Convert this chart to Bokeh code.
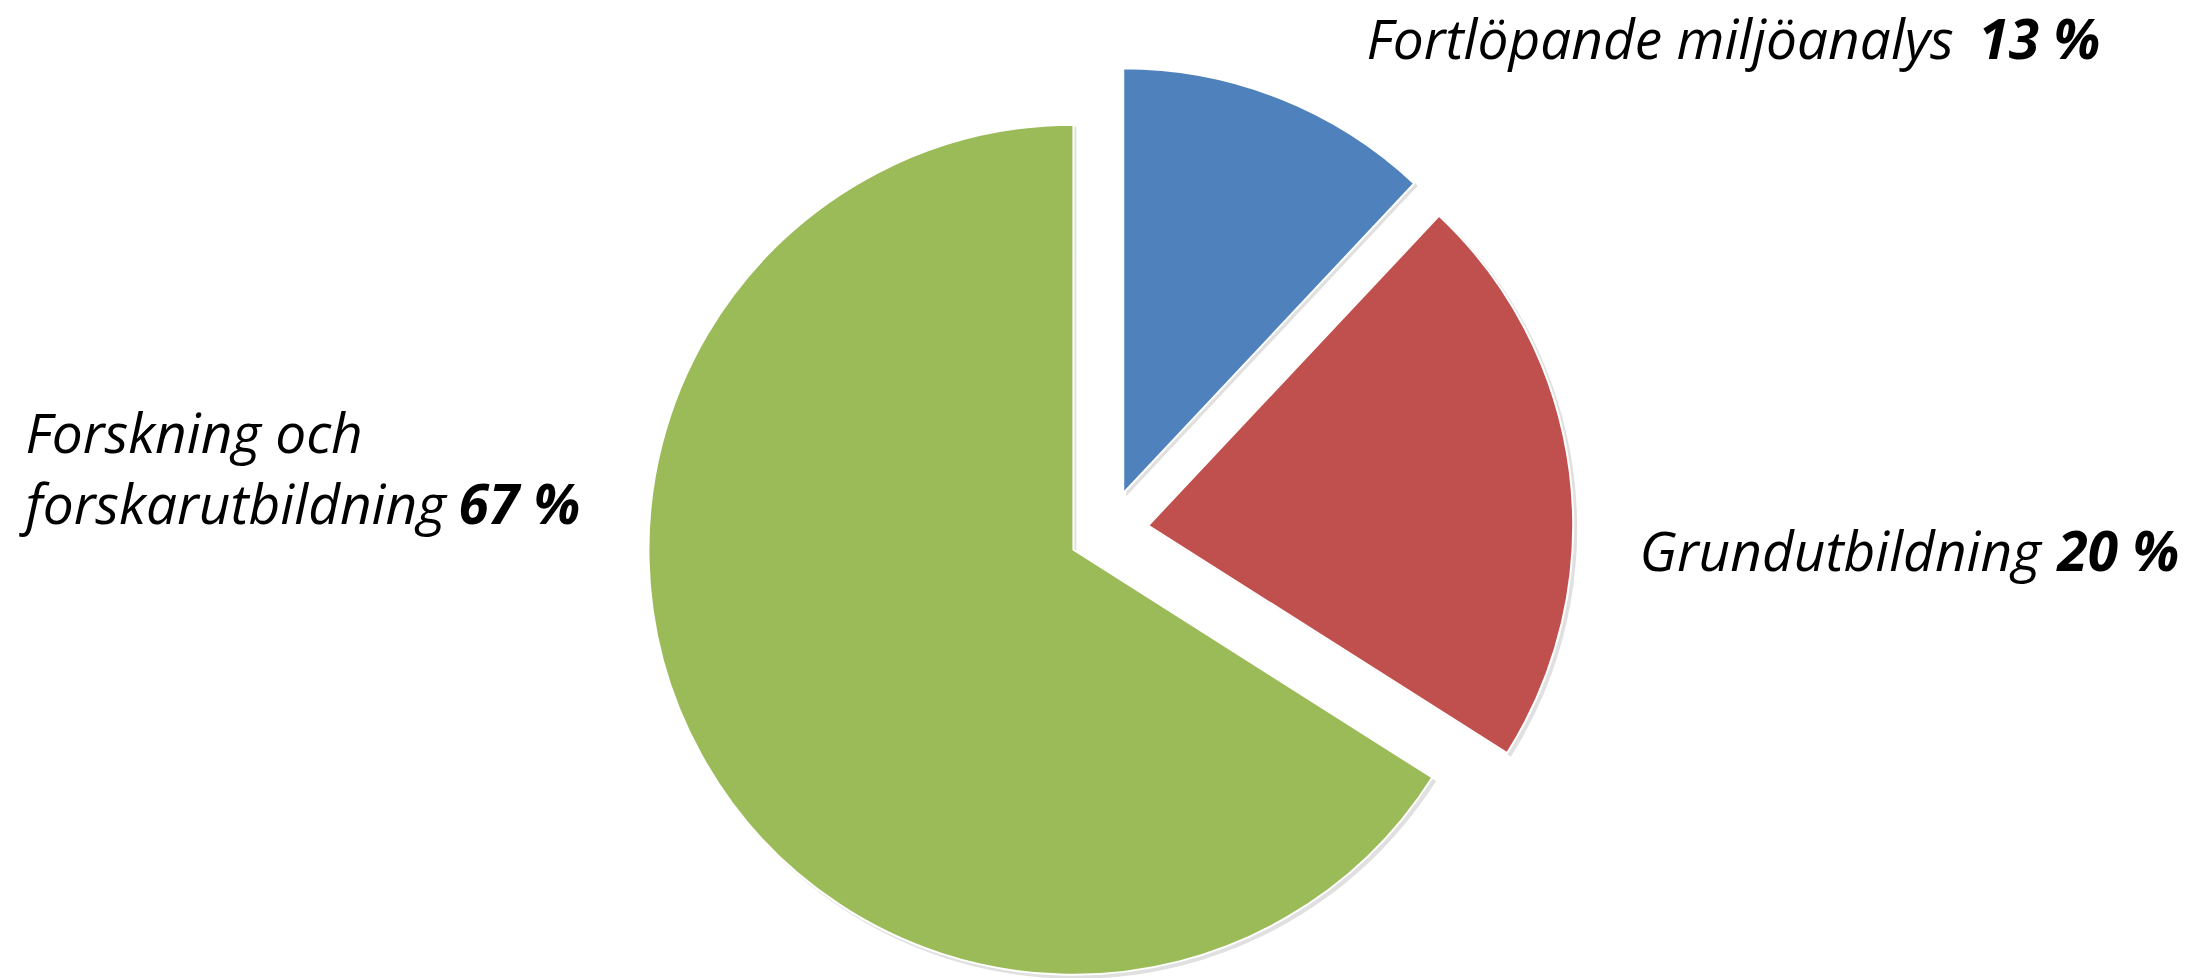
import math
from bokeh.plotting import figure
from bokeh.models import Range1d, ColumnDataSource
from bokeh.core.properties import value
from bokeh.embed import file_html
from bokeh.resources import INLINE

# ---- data ----
categories = ["Fortlöpande miljöanalys", "Grundutbildning", "Forskning och forskarutbildning"]
shares = [12, 22, 66]            # slice sizes as drawn (angles)
pct_labels = ["13 %", "20 %", "67 %"]   # printed label values
colors = ["#4F81BD", "#C0504D", "#9BBB59"]

# ---- layout ----
W, H = 2197, 978
CX, CY = 1108, H - 530   # pie centre (data units == pixels)
R = 425
EXPLODE = 40
FONT = "Open Sans"
FS = "55px"

p = figure(width=W, height=H, output_backend="svg", toolbar_location=None,
           x_range=Range1d(0, W), y_range=Range1d(0, H),
           min_border=0, outline_line_color=None, background_fill_color="white",
           border_fill_color="white")
p.axis.visible = False
p.grid.visible = False

total = sum(shares)
xs, ys, starts, ends = [], [], [], []
cum = 0.0
for v in shares:
    end = 90.0 - cum / total * 360.0
    start = end - v / total * 360.0
    mid = math.radians((start + end) / 2)
    xs.append(CX + EXPLODE * math.cos(mid))
    ys.append(CY + EXPLODE * math.sin(mid))
    starts.append(math.radians(start))
    ends.append(math.radians(end))
    cum += v

src = ColumnDataSource(dict(x=xs, y=ys, start=starts, end=ends, color=colors,
                            sx=[x + 3 for x in xs], sy=[y - 3 for y in ys]))

# soft shadow
p.wedge(x="sx", y="sy", radius=R + 1, start_angle="start", end_angle="end",
        direction="anticlock", fill_color="#000000", fill_alpha=0.12, line_color=None, source=src)
p.wedge(x="x", y="y", radius=R, start_angle="start", end_angle="end",
        direction="anticlock", fill_color="color", line_color="white", line_width=2, source=src)

def txt(x, y, s, bold=False):
    p.text(x=[x], y=[H - y], text=[s], text_font=value(FONT), text_font_size=FS,
           text_font_style="bold italic" if bold else "italic", text_color="black",
           text_align="left", text_baseline="alphabetic")

# labels: normal part then bold percentage (x, baseline in screen pixels)
txt(1366, 37, categories[0])
txt(1978, 37, pct_labels[0], bold=True)

txt(1639, 549, categories[1])
txt(2057, 549, pct_labels[1], bold=True)

txt(25, 431, "Forskning och")
txt(25, 502, "forskarutbildning")
txt(458, 502, pct_labels[2], bold=True)

open("out.html", "w").write(file_html(p, INLINE))
